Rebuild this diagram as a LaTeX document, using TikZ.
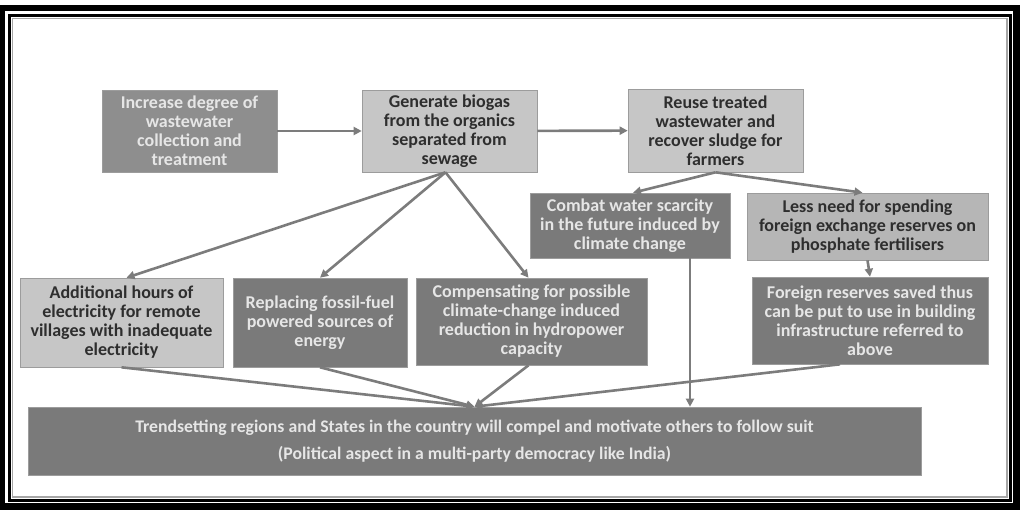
\documentclass[tikz,border=0pt]{standalone}
\usepackage{fontspec}
\setmainfont{Carlito}
\usepackage{tikz}
\usetikzlibrary{arrows.meta}
\usepackage{xcolor}
\definecolor{darkbox}{HTML}{7A7A7A}
\definecolor{midbox}{HTML}{8E8E8E}
\definecolor{lightbox}{HTML}{C6C6C6}
\definecolor{palebox}{HTML}{B6B6B6}
\definecolor{boxedge}{HTML}{9C9C9C}
\definecolor{darktext}{HTML}{2E2E2E}
\definecolor{whitetext}{HTML}{E6E6E6}
\definecolor{linkgray}{HTML}{7C7C7C}

\begin{document}
\begin{tikzpicture}[x=1pt,y=-1pt,
      box/.style={rectangle,draw=boxedge,line width=0.6pt,align=center,inner sep=2pt,
        font=\fontsize{18}{19}\selectfont\bfseries},
      dark box/.style={box,fill=darkbox,text=whitetext},
      light box/.style={box,fill=lightbox,text=darktext},
      link/.style={draw=linkgray,line width=2.6pt,-{Triangle[length=8pt,width=8pt]}}]
      \useasboundingbox (0,0) rectangle (1023,515);
      \draw[line width=6.5pt] (2,8) rectangle (1016.5,506.5);
      \draw[line width=3pt] (9.5,15.5) rectangle (1010,500);
      \draw[gray!70,line width=1.2pt] (12.5,18.5) rectangle (1007,497);
      \node[dark box,fill=midbox,minimum width=175pt,minimum height=82pt] (collect) at (189.5,131)
        {Increase degree of\\wastewater\\collection and\\treatment};
      \node[light box,minimum width=175pt,minimum height=82pt] (biogas) at (449.5,131)
        {Generate biogas\\from the organics\\separated from\\sewage};
      \node[light box,minimum width=175pt,minimum height=83pt] (reuse) at (715.5,130.5)
        {Reuse treated\\wastewater and\\recover sludge for\\farmers};
      \node[dark box,minimum width=200pt,minimum height=65pt] (scarcity) at (630,225.5)
        {Combat water scarcity\\in the future induced by\\climate change};
      \node[light box,fill=palebox,minimum width=241pt,minimum height=67pt] (forex) at (867.5,226.5)
        {Less need for spending\\foreign exchange reserves on\\phosphate fertilisers};
      \node[light box,minimum width=203pt,minimum height=89pt] (villages) at (121.5,322.5)
        {Additional hours of\\electricity for remote\\villages with inadequate\\electricity};
      \node[dark box,minimum width=174pt,minimum height=89pt] (fossil) at (320,322.5)
        {Replacing fossil-fuel\\powered sources of\\energy};
      \node[dark box,minimum width=231pt,minimum height=87pt] (hydro) at (531.5,321.5)
        {Compensating for possible\\climate-change induced\\reduction in hydropower\\capacity};
      \node[dark box,minimum width=236pt,minimum height=87pt] (infra) at (870,320.5)
        {Foreign reserves saved thus\\can be put to use in building\\infrastructure referred to\\above};
      \node[dark box,font=\fontsize{17.7}{19}\selectfont\bfseries,minimum width=893pt,minimum height=68pt] (trend) at (474.5,441)
        {Trendsetting regions and States in the country will compel and motivate others to follow suit\\[8pt]
         (Political aspect in a multi-party democracy like India)};
      \draw[link] (collect) -- (biogas);
      \draw[link] (biogas) -- (reuse);
      \draw[link] ([xshift=-4pt]biogas.south) -- ([xshift=5pt]villages.north);
      \draw[link] ([xshift=-4pt]biogas.south) -- (fossil.north);
      \draw[link] ([xshift=-4pt]biogas.south) -- ([xshift=-3pt]hydro.north);
      \draw[link] (reuse.south) -- ([xshift=3pt]scarcity.north);
      \draw[link] (reuse.south) -- ([xshift=-5pt]forex.north);
      \draw[link] (forex.south) -- (infra.north);
      \draw[link] ([xshift=60pt]scarcity.south) -- ([xshift=60pt]scarcity.south |- trend.north);
      \draw[link] (villages.south) -- (trend.north);
      \draw[link] (fossil.south) -- (trend.north);
      \draw[link] ([xshift=-3pt]hydro.south) -- (trend.north);
      \draw[link] ([xshift=-30pt]infra.south) -- (trend.north);
    \end{tikzpicture}
\end{document}
